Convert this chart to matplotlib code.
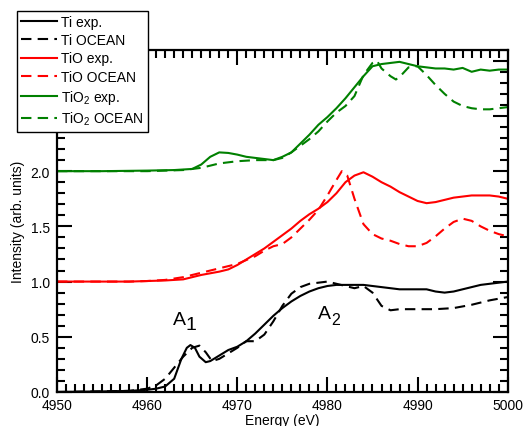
import numpy as np
import matplotlib
matplotlib.use("Agg")
import matplotlib.pyplot as plt
from matplotlib.ticker import MultipleLocator, FixedLocator, FixedFormatter

plt.rcParams['font.family'] = ['Liberation Sans', 'DejaVu Sans']
plt.rcParams['mathtext.fontset'] = 'custom'
plt.rcParams['mathtext.rm'] = 'Liberation Sans'
plt.rcParams['font.size'] = 10

# Ti exp. / OCEAN
ti_exp_x = [4950, 4955, 4958, 4960, 4961, 4962, 4963, 4963.8, 4964.4, 4964.8, 4965.3, 4965.8,
            4966.5, 4967, 4968, 4969, 4970, 4971, 4972, 4973, 4974, 4975, 4976, 4977, 4978,
            4979, 4980, 4981, 4982, 4983, 4984, 4985, 4986, 4987, 4988, 4989, 4990, 4991,
            4992, 4993, 4994, 4995, 4996, 4997, 4998, 4999, 5000]
ti_exp_y = [0.0, 0.005, 0.01, 0.02, 0.03, 0.05, 0.12, 0.30, 0.40, 0.425, 0.40, 0.32,
            0.27, 0.28, 0.33, 0.38, 0.41, 0.46, 0.53, 0.61, 0.69, 0.76, 0.82, 0.87, 0.91,
            0.94, 0.96, 0.97, 0.97, 0.97, 0.97, 0.96, 0.95, 0.94, 0.93, 0.93, 0.93, 0.93,
            0.91, 0.90, 0.91, 0.93, 0.95, 0.97, 0.98, 0.99, 1.0]
ti_oc_x = [4950, 4958, 4960, 4961, 4962, 4963, 4964, 4965, 4965.8, 4966.5, 4967.2, 4968,
           4969, 4970, 4971, 4972, 4973, 4974, 4975, 4976, 4977, 4978, 4979, 4980, 4981,
           4982, 4983, 4984, 4985, 4986, 4987, 4988, 4990, 4992, 4994, 4996, 4998, 5000]
ti_oc_y = [0.0, 0.01, 0.03, 0.06, 0.12, 0.22, 0.32, 0.40, 0.42, 0.36, 0.28, 0.30,
           0.35, 0.40, 0.46, 0.46, 0.52, 0.64, 0.78, 0.89, 0.95, 0.98, 0.99, 1.0, 0.98,
           0.96, 0.94, 0.96, 0.90, 0.78, 0.74, 0.75, 0.75, 0.75, 0.76, 0.79, 0.83, 0.86]

# TiO exp. / OCEAN
tio_exp_x = [4950, 4955, 4958, 4960, 4962, 4964, 4966, 4968, 4969, 4970, 4971, 4972, 4973,
             4974, 4975, 4976, 4977, 4978, 4979, 4980, 4981, 4982, 4983, 4984, 4985, 4986,
             4987, 4988, 4989, 4990, 4991, 4992, 4993, 4994, 4995, 4996, 4997, 4998, 4999, 5000]
tio_exp_y = [1.0, 1.0, 1.0, 1.005, 1.01, 1.02, 1.06, 1.09, 1.11, 1.15, 1.20, 1.25, 1.30,
             1.36, 1.42, 1.48, 1.55, 1.61, 1.66, 1.72, 1.80, 1.90, 1.96, 1.99, 1.95, 1.90,
             1.86, 1.81, 1.77, 1.73, 1.71, 1.72, 1.74, 1.76, 1.77, 1.78, 1.78, 1.78, 1.77, 1.75]
tio_oc_x = [4950, 4958, 4960, 4962, 4964, 4966, 4968, 4970, 4972, 4973, 4974, 4975, 4976,
            4977, 4978, 4979, 4980, 4981, 4981.6, 4982.2, 4983, 4984, 4985, 4986, 4987,
            4988, 4989, 4990, 4991, 4992, 4993, 4994, 4995, 4996, 4997, 4998, 4999, 5000]
tio_oc_y = [1.0, 1.0, 1.005, 1.015, 1.04, 1.08, 1.12, 1.16, 1.23, 1.28, 1.32, 1.34, 1.40,
            1.48, 1.56, 1.65, 1.78, 1.92, 2.0, 1.96, 1.75, 1.52, 1.43, 1.39, 1.37,
            1.34, 1.32, 1.32, 1.35, 1.41, 1.48, 1.54, 1.57, 1.55, 1.50, 1.46, 1.43, 1.41]

# TiO2 exp. / OCEAN
tio2_exp_x = [4950, 4955, 4960, 4963, 4965, 4966, 4967, 4968, 4969, 4970, 4971, 4972, 4973,
              4974, 4975, 4976, 4977, 4978, 4979, 4980, 4981, 4982, 4983, 4984, 4985, 4986,
              4987, 4988, 4989, 4990, 4991, 4992, 4993, 4994, 4995, 4996, 4997, 4998, 4999, 5000]
tio2_exp_y = [2.0, 2.0, 2.005, 2.01, 2.02, 2.06, 2.13, 2.17, 2.165, 2.15, 2.13, 2.12, 2.11,
              2.10, 2.13, 2.17, 2.25, 2.33, 2.42, 2.49, 2.57, 2.66, 2.76, 2.86, 2.95, 2.97,
              2.98, 2.99, 2.97, 2.95, 2.94, 2.93, 2.93, 2.92, 2.935, 2.90, 2.92, 2.91, 2.92, 2.92]
tio2_oc_x = [4950, 4960, 4964, 4966, 4968, 4970, 4972, 4974, 4975, 4976, 4977, 4978, 4979,
             4980, 4981, 4982, 4983, 4984, 4985, 4985.5, 4986, 4987, 4987.6, 4988.2, 4989,
             4990, 4991, 4992, 4993, 4994, 4995, 4996, 4997, 4998, 4999, 5000]
tio2_oc_y = [2.0, 2.0, 2.01, 2.03, 2.07, 2.09, 2.10, 2.10, 2.12, 2.17, 2.23, 2.29, 2.36,
             2.45, 2.53, 2.59, 2.68, 2.87, 2.98, 3.0, 2.93, 2.86, 2.83, 2.87, 2.94,
             2.95, 2.87, 2.78, 2.70, 2.63, 2.59, 2.57, 2.56, 2.56, 2.57, 2.58]

y_major = [0.0, 0.5, 1.0, 1.5, 2.0, 2.5, 3.0]
y_labels = ['0.0', '0.5', '1.0', '1.5', '2.0', '', '']

fig = plt.figure(figsize=(5.23, 4.27), dpi=100)
ax = fig.add_axes([57 / 523, 34 / 427, 450.7 / 523, 342.3 / 427])

lw = 1.5
dash = (5, 3)
ax.plot(ti_exp_x, ti_exp_y, color='black', lw=lw, label='Ti exp.')
ax.plot(ti_oc_x, ti_oc_y, color='black', lw=lw, dashes=dash, label='Ti OCEAN')
ax.plot(tio_exp_x, tio_exp_y, color='red', lw=lw, label='TiO exp.')
ax.plot(tio_oc_x, tio_oc_y, color='red', lw=lw, dashes=dash, label='TiO OCEAN')
ax.plot(tio2_exp_x, tio2_exp_y, color='green', lw=lw, label=r'TiO$_\mathregular{2}$ exp.')
ax.plot(tio2_oc_x, tio2_oc_y, color='green', lw=lw, dashes=dash, label=r'TiO$_\mathregular{2}$ OCEAN')

ax.set_xlim(4950, 5000)
ax.set_ylim(0, 3.1)
ax.xaxis.set_major_locator(MultipleLocator(10))
ax.xaxis.set_minor_locator(MultipleLocator(1))
ax.yaxis.set_major_locator(FixedLocator(y_major))
ax.yaxis.set_major_formatter(FixedFormatter(y_labels))
ax.yaxis.set_minor_locator(MultipleLocator(0.1))
ax.tick_params(which='both', direction='in', top=True, right=True, width=1.5, colors='black')
ax.tick_params(which='major', length=11)
ax.tick_params(which='minor', length=5.5)
ax.tick_params(axis='y', pad=5)
ax.tick_params(axis='x', pad=4)
for s in ax.spines.values():
    s.set_linewidth(1.6)

ax.set_xlabel('Energy (eV)', labelpad=1)
ax.set_ylabel('Intensity (arb. units)', labelpad=4)

# peak labels
ax.text(4962.84, 0.615, 'A', fontsize=14, ha='left', va='baseline')
ax.text(4964.31, 0.57, '1', fontsize=14, ha='left', va='baseline')
ax.text(4978.92, 0.667, 'A', fontsize=14, ha='left', va='baseline')
ax.text(4980.47, 0.615, '2', fontsize=11.5, ha='left', va='baseline')

leg = ax.legend(loc='upper left', bbox_to_anchor=(17 / 523, 1 - 12 / 427),
                bbox_transform=fig.transFigure, borderaxespad=0, frameon=True,
                fancybox=False, framealpha=1, edgecolor='black', handlelength=2.6,
                handletextpad=0.3, labelspacing=0.3, borderpad=0.3)
leg.get_frame().set_linewidth(1.0)

fig.savefig('out.png', dpi=100)
